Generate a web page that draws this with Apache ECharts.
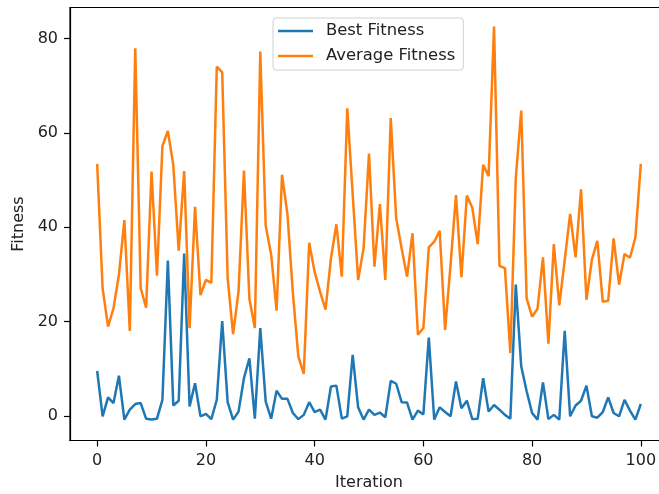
<!DOCTYPE html>
<html>
<head>
<meta charset="utf-8">
<script src="https://cdn.jsdelivr.net/npm/echarts@6/dist/echarts.min.js"></script>
<style>
html,body{margin:0;padding:0;background:#fff;}
#chart{width:659px;height:494px;}
</style>
</head>
<body>
<div id="chart"></div>
<script>
const iterations = Array.from({length: 101}, (_, i) => i);
const bestFitness = [9.5, -0.1, 3.9, 2.7, 8.5, -0.8, 1.3, 2.5, 2.7, -0.6, -0.8, -0.6, 3.4, 32.9, 2.2, 3.2, 34.4, 2.0, 6.9, -0.1,
  0.4, -0.7, 3.4, 20.1, 2.9, -0.8, 0.9, 8.0, 12.2, -0.6, 18.6, 3.0, -0.6, 5.3, 3.6, 3.6, 0.6, -0.7, 0.2, 2.9, 0.8,
  1.3, -0.8, 6.2, 6.4, -0.6, -0.1, 12.9, 1.8, -0.8, 1.3, 0.2, 0.7, -0.3, 7.4, 6.8, 2.9, 2.8, -0.8, 1.1, 0.3,
  16.6, -0.8, 1.8, 0.8, -0.1, 7.3, 1.6, 3.2, -0.7, -0.6, 8.0, 0.9, 2.3, 1.3, 0.2, -0.6, 27.8, 10.5, 5.2, 0.6,
  -0.8, 7.1, -0.7, 0.2, -0.8, 18.0, -0.1, 2.2, 3.2, 6.4, -0.1, -0.4, 0.8, 3.9, 0.6, -0.1, 3.4, 1.1, -0.8, 2.5];
const averageFitness = [53.4, 27.0, 18.9, 22.8, 29.9, 41.5, 18.0, 77.9, 27.1, 22.9, 51.8, 29.7, 57.2, 60.4, 53.2, 35.0, 51.9, 18.6, 44.3, 25.6,
  28.8, 28.2, 74.0, 72.8, 29.2, 17.3, 26.3, 52.0, 24.8, 18.6, 77.2, 40.3, 34.2, 22.3, 51.1, 42.7, 26.0, 12.6, 8.9, 36.7, 30.5,
  26.3, 22.5, 33.4, 40.6, 29.5, 65.2, 47.0, 28.8, 35.5, 55.6, 31.6, 44.9, 28.8, 63.1, 41.9, 35.5, 29.5, 38.7, 17.2, 18.6,
  35.7, 36.9, 39.2, 18.2, 32.0, 46.8, 29.4, 46.7, 44.1, 36.4, 53.2, 50.8, 82.5, 31.8, 31.3, 13.3, 50.4, 64.7, 24.9, 21.0,
  22.7, 33.6, 15.3, 36.4, 23.4, 33.0, 42.8, 33.6, 48.0, 24.6, 33.1, 37.1, 24.2, 24.4, 37.6, 27.8, 34.3, 33.5, 37.8, 53.4];
const xTicks = [0, 20, 40, 60, 80, 100];
const yTicks = [0, 20, 40, 60, 80];

const font = 'DejaVu Sans';
const fs = 16;
const chart = echarts.init(document.getElementById('chart'), null, {renderer: 'canvas'});
chart.setOption({
  animation: false,
  backgroundColor: '#fff',
  textStyle: {fontFamily: font},
  grid: {left: 70, top: 7.5, width: 598, height: 433, show: true, borderColor: '#000', borderWidth: 1.2,
         containLabel: false, outerBoundsMode: 'none'},
  legend: {
    left: 273, top: 18, orient: 'vertical',
    data: ['Best Fitness', 'Average Fitness'],
    icon: 'rect', itemWidth: 35, itemHeight: 2.5, itemGap: 9,
    padding: [5, 8, 6, 5],
    backgroundColor: 'rgba(255,255,255,0.8)', borderColor: '#d0d0d0', borderWidth: 1, borderRadius: 3,
    textStyle: {fontFamily: font, fontSize: 16.4, color: '#222', padding: [0, 0, 0, 8]}
  },
  xAxis: {
    type: 'value', min: -5, max: 105,
    name: 'Iteration', nameLocation: 'middle', nameGap: 34,
    nameTextStyle: {fontFamily: font, fontSize: fs, color: '#222'},
    axisLine: {show: true, onZero: false, lineStyle: {color: '#000', width: 1.2}},
    axisTick: {show: true, length: 6, lineStyle: {color: '#000', width: 1.2}, customValues: xTicks},
    axisLabel: {fontFamily: font, fontSize: fs, color: '#222', margin: 12, customValues: xTicks},
    splitLine: {show: false}
  },
  yAxis: {
    type: 'value', min: -5.23, max: 86.55,
    name: 'Fitness', nameLocation: 'middle', nameGap: 37, nameRotate: 90,
    nameTextStyle: {fontFamily: font, fontSize: fs, color: '#222'},
    axisLine: {show: true, onZero: false, lineStyle: {color: '#000', width: 1.2}},
    axisTick: {show: true, length: 6, lineStyle: {color: '#000', width: 1.2}, customValues: yTicks},
    axisLabel: {fontFamily: font, fontSize: fs, color: '#222', margin: 12, customValues: yTicks},
    splitLine: {show: false}
  },
  series: [
    {name: 'Best Fitness', type: 'line', showSymbol: false, symbol: 'none',
     data: iterations.map((x, i) => [x, bestFitness[i]]),
     itemStyle: {color: '#1f77b4'}, lineStyle: {color: '#1f77b4', width: 2.5}},
    {name: 'Average Fitness', type: 'line', showSymbol: false, symbol: 'none',
     data: iterations.map((x, i) => [x, averageFitness[i]]),
     itemStyle: {color: '#ff7f0e'}, lineStyle: {color: '#ff7f0e', width: 2.5}}
  ]
});
</script>
</body>
</html>
